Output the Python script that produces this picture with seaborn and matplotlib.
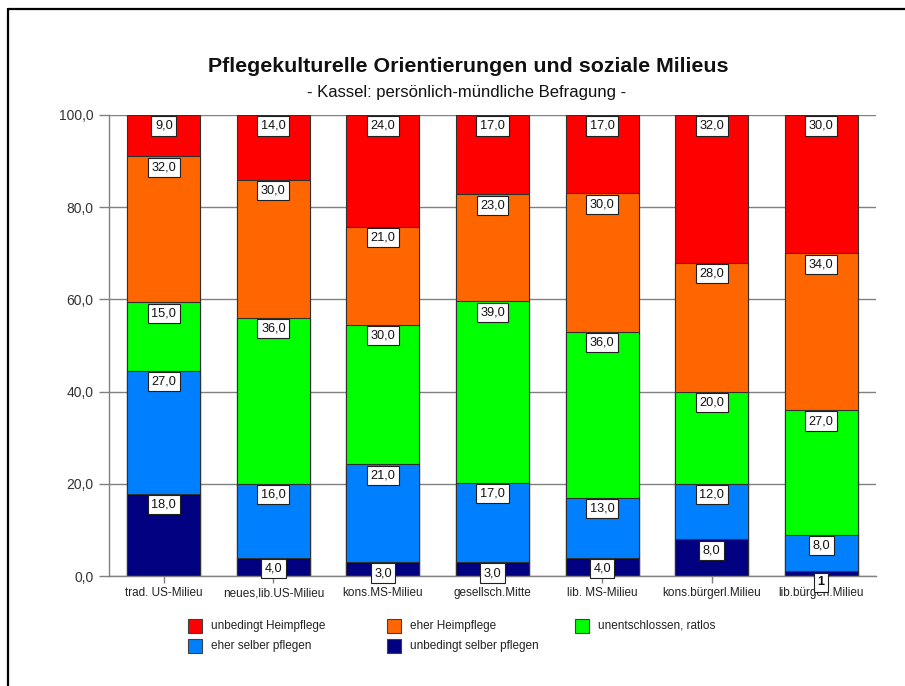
import numpy as np
import pandas as pd
import matplotlib
matplotlib.use("Agg")
import matplotlib.pyplot as plt
from matplotlib.patches import Rectangle
from matplotlib.lines import Line2D
import seaborn as sns

categories = ["trad. US-Milieu", "neues,lib.US-Milieu", "kons.MS-Milieu",
              "gesellsch.Mitte", "lib. MS-Milieu", "kons.bürgerl.Milieu",
              "lib.bürgerl.Milieu"]
series_names = ["unbedingt selber pflegen", "eher selber pflegen",
                "unentschlossen, ratlos", "eher Heimpflege", "unbedingt Heimpflege"]
unbedingt_selber = [18, 4, 3, 3, 4, 8, 1]
eher_selber = [27, 16, 21, 17, 13, 12, 8]
unentschlossen = [15, 36, 30, 39, 36, 20, 27]
eher_heim = [32, 30, 21, 23, 30, 28, 34]
unbedingt_heim = [9, 14, 24, 17, 17, 32, 30]
colors = ["#000080", "#0080FF", "#00FF00", "#FF6600", "#FF0000"]
yticks = [0, 20, 40, 60, 80, 100]

sns.set_theme(style="white")
plt.rcParams["font.family"] = ["Liberation Sans", "DejaVu Sans"]

values = np.array([unbedingt_selber, eher_selber, unentschlossen, eher_heim, unbedingt_heim], dtype=float)
pct = values / values.sum(axis=0) * 100
cum = np.cumsum(pct, axis=0)

fig = plt.figure(figsize=(9.05, 6.86), dpi=100)
ax = fig.add_axes([109 / 905, 1 - 576 / 686, (876 - 109) / 905, (576 - 115) / 686])

# stacked bars: draw cumulative totals from top series down
for i in range(len(series_names) - 1, -1, -1):
    df = pd.DataFrame({"cat": categories, "val": cum[i]})
    sns.barplot(data=df, x="cat", y="val", color=colors[i], saturation=1,
                width=0.666, edgecolor="#303030", linewidth=0.8, ax=ax, zorder=2)

# value labels
for i in range(len(series_names)):
    for j in range(len(categories)):
        v = values[i, j]
        if v < 2:
            txt, fw = f"{int(v)}", "bold"
        else:
            txt, fw = f"{v:.1f}".replace(".", ","), "normal"
        ax.annotate(txt, xy=(j, cum[i, j]), xytext=(0, -3.6), textcoords="offset points",
                    ha="center", va="top", fontsize=9.2, fontweight=fw, color="#111111",
                    bbox=dict(boxstyle="square,pad=0.28", fc="white", ec="#202020", lw=0.8),
                    zorder=5, annotation_clip=False)

ax.set_xlim(-0.5, 6.5)
ax.set_ylim(0, 100)
ax.set_yticks(yticks)
ax.set_yticklabels([f"{t:.1f}".replace(".", ",") for t in yticks], fontsize=10, color="#333333")
ax.set_xticklabels(categories, fontsize=8.5, color="#222222")
ax.set_xlabel("")
ax.set_ylabel("")
ax.yaxis.grid(True, color="#808080", linewidth=1.0, zorder=0)
ax.set_axisbelow(True)
for s in ["top", "right"]:
    ax.spines[s].set_visible(False)
for s in ["left", "bottom"]:
    ax.spines[s].set_color("#808080")
    ax.spines[s].set_linewidth(1.0)
ax.tick_params(axis="y", length=7, width=1, color="#808080", pad=4, left=True)
ax.tick_params(axis="x", length=5, width=1, color="#808080", pad=3, bottom=True)

# titles
fig.text(468 / 905, 1 - 66 / 686, "Pflegekulturelle Orientierungen und soziale Milieus",
         ha="center", va="center", fontsize=15.4, fontweight="bold", color="#111111")
fig.text(467 / 905, 1 - 93 / 686, "- Kassel: persönlich-mündliche Befragung -",
         ha="center", va="center", fontsize=12, color="#111111")

# legend (row-major order as in reference)
legend_order = [4, 3, 2, 1, 0]
pos = [(188, 626), (387, 626), (575, 626), (188, 646), (387, 646)]
for k, (px, py) in zip(legend_order, pos):
    fig.add_artist(Rectangle((px / 905, 1 - (py + 7) / 686), 14 / 905, 14 / 686,
                             transform=fig.transFigure, fc=colors[k], ec="#404040", lw=0.8))
    fig.text((px + 23) / 905, 1 - py / 686, series_names[k], ha="left", va="center",
             fontsize=8.5, color="#222222")

# outer frame (top and left lines)
fig.add_artist(Line2D([8 / 905, 8 / 905], [0, 1 - 9 / 686], transform=fig.transFigure,
                      color="black", lw=1.6))
fig.add_artist(Line2D([8 / 905, 1], [1 - 9 / 686, 1 - 9 / 686], transform=fig.transFigure,
                      color="black", lw=1.6))

fig.savefig("out.png", dpi=100, facecolor="white")
